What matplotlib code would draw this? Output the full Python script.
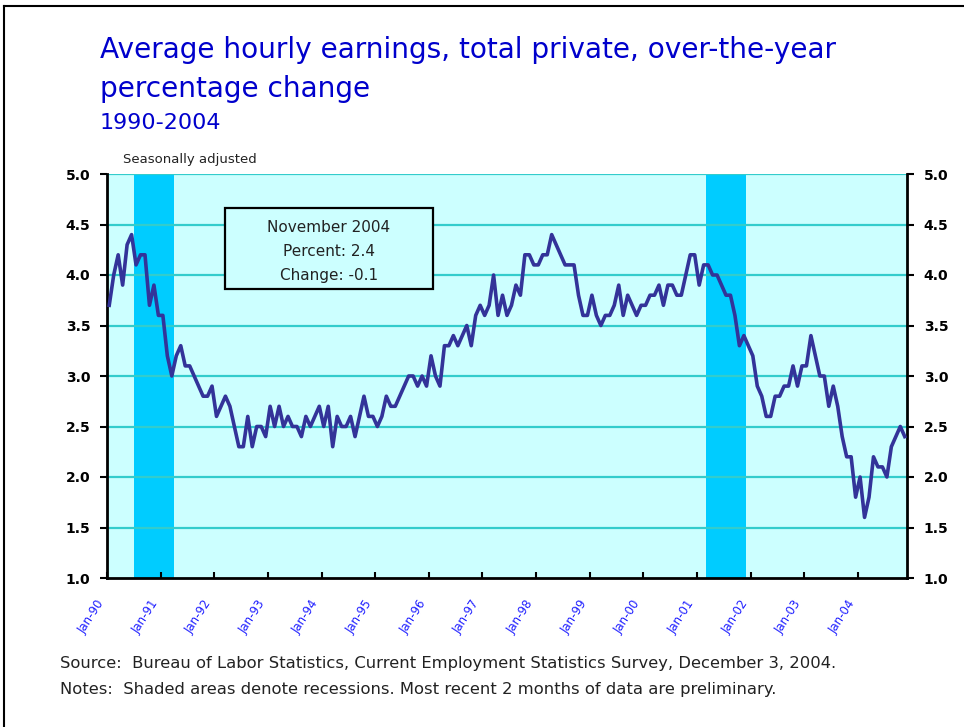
import pandas as pd
import matplotlib.pyplot as plt
from matplotlib.patches import Rectangle
from matplotlib.lines import Line2D

# over-the-year % change, Jan-1990 .. Nov-2004 (monthly)
pct_change = [
    3.7, 4.0, 4.2, 3.9, 4.3, 4.4, 4.1, 4.2, 4.2, 3.7, 3.9, 3.6,  # 1990
    3.6, 3.2, 3.0, 3.2, 3.3, 3.1, 3.1, 3.0, 2.9, 2.8, 2.8, 2.9,  # 1991
    2.6, 2.7, 2.8, 2.7, 2.5, 2.3, 2.3, 2.6, 2.3, 2.5, 2.5, 2.4,  # 1992
    2.7, 2.5, 2.7, 2.5, 2.6, 2.5, 2.5, 2.4, 2.6, 2.5, 2.6, 2.7,  # 1993
    2.5, 2.7, 2.3, 2.6, 2.5, 2.5, 2.6, 2.4, 2.6, 2.8, 2.6, 2.6,  # 1994
    2.5, 2.6, 2.8, 2.7, 2.7, 2.8, 2.9, 3.0, 3.0, 2.9, 3.0, 2.9,  # 1995
    3.2, 3.0, 2.9, 3.3, 3.3, 3.4, 3.3, 3.4, 3.5, 3.3, 3.6, 3.7,  # 1996
    3.6, 3.7, 4.0, 3.6, 3.8, 3.6, 3.7, 3.9, 3.8, 4.2, 4.2, 4.1,  # 1997
    4.1, 4.2, 4.2, 4.4, 4.3, 4.2, 4.1, 4.1, 4.1, 3.8, 3.6, 3.6,  # 1998
    3.8, 3.6, 3.5, 3.6, 3.6, 3.7, 3.9, 3.6, 3.8, 3.7, 3.6, 3.7,  # 1999
    3.7, 3.8, 3.8, 3.9, 3.7, 3.9, 3.9, 3.8, 3.8, 4.0, 4.2, 4.2,  # 2000
    3.9, 4.1, 4.1, 4.0, 4.0, 3.9, 3.8, 3.8, 3.6, 3.3, 3.4, 3.3,  # 2001
    3.2, 2.9, 2.8, 2.6, 2.6, 2.8, 2.8, 2.9, 2.9, 3.1, 2.9, 3.1,  # 2002
    3.1, 3.4, 3.2, 3.0, 3.0, 2.7, 2.9, 2.7, 2.4, 2.2, 2.2, 1.8,  # 2003
    2.0, 1.6, 1.8, 2.2, 2.1, 2.1, 2.0, 2.3, 2.4, 2.5, 2.4,       # 2004
]
start_month = '1990-01'
recessions = [('1990-07', '1991-03'), ('2001-03', '2001-11')]
y_ticks = [1.0, 1.5, 2.0, 2.5, 3.0, 3.5, 4.0, 4.5, 5.0]
box_lines = ['November 2004', 'Percent: 2.4', 'Change: -0.1']

months = pd.date_range(start_month, periods=len(pct_change), freq='MS')
pos = {m.strftime('%Y-%m'): i for i, m in enumerate(months)}

W, H = 964, 727
fig = plt.figure(figsize=(W / 100, H / 100), dpi=100)
ax = fig.add_axes([107 / W, 1 - 578 / H, 800 / W, 404 / H])

# categorical month axis: point i sits in the middle of slot [i, i+1]
x = [i + 0.5 for i in range(len(pct_change))]
ax.set_facecolor('#CCFFFF')
for start, end in recessions:
    ax.axvspan(pos[start], pos[end] + 1, color='#00CCFF', lw=0, zorder=1)
for yv in y_ticks[1:]:
    ax.axhline(yv, color='#33CCCC', lw=1.6, zorder=2)
ax.plot(x, pct_change, color='#333399', lw=2.6, zorder=3)

ax.set_xlim(0, len(pct_change))
ax.set_ylim(1.0, 5.0)

jan = [m for m in months if m.month == 1]
ax.set_xticks([pos[m.strftime('%Y-%m')] for m in jan])
ax.set_xticklabels([m.strftime('Jan-%y') for m in jan], rotation=57,
                   ha='right', va='top', color='#2020FF', fontsize=8.5)
ax.tick_params(axis='x', direction='in', length=4, width=1.5, pad=14)

ax.set_yticks(y_ticks)
ax.set_yticklabels([f'{v:.1f}' for v in y_ticks], fontweight='bold', fontsize=10)
ax.tick_params(axis='y', direction='out', length=5, width=1.5, pad=7,
               left=True, right=True, labelleft=True, labelright=True)

ax.spines['top'].set_visible(False)
for side in ['left', 'right', 'bottom']:
    ax.spines[side].set_linewidth(2)

# titles
title_col = '#0000CC'
fig.text(100 / W, 1 - 58 / H, 'Average hourly earnings, total private, over-the-year',
         fontsize=20.2, color=title_col, va='baseline')
fig.text(100 / W, 1 - 97 / H, 'percentage change', fontsize=20.2, color=title_col, va='baseline')
fig.text(100 / W, 1 - 129 / H, '1990-2004', fontsize=16, color=title_col, va='baseline')
fig.text(123 / W, 1 - 163 / H, 'Seasonally adjusted', fontsize=9.5, color='#222222', va='baseline')

# info box
fig.add_artist(Rectangle((225 / W, 1 - 289 / H), 208 / W, 81 / H, transform=fig.transFigure,
                         facecolor='#CCFFFF', edgecolor='black', lw=1.6, zorder=5))
for k, line in enumerate(box_lines):
    fig.text(329 / W, 1 - (232 + 24 * k) / H, line, ha='center', va='baseline',
             fontsize=11, color='#222222', zorder=6)

# footer
fig.text(60 / W, 1 - 668 / H,
         'Source:  Bureau of Labor Statistics, Current Employment Statistics Survey, December 3, 2004.',
         fontsize=11.75, color='#222222', va='baseline')
fig.text(60 / W, 1 - 694 / H,
         'Notes:  Shaded areas denote recessions. Most recent 2 months of data are preliminary.',
         fontsize=11.75, color='#222222', va='baseline')

# frame around the slide
fig.add_artist(Line2D([4 / W, 1], [1 - 6 / H, 1 - 6 / H], color='black', lw=1.5))
fig.add_artist(Line2D([4 / W, 4 / W], [0, 1 - 6 / H], color='black', lw=1.5))

fig.savefig('out.png', dpi=100, facecolor='white')
